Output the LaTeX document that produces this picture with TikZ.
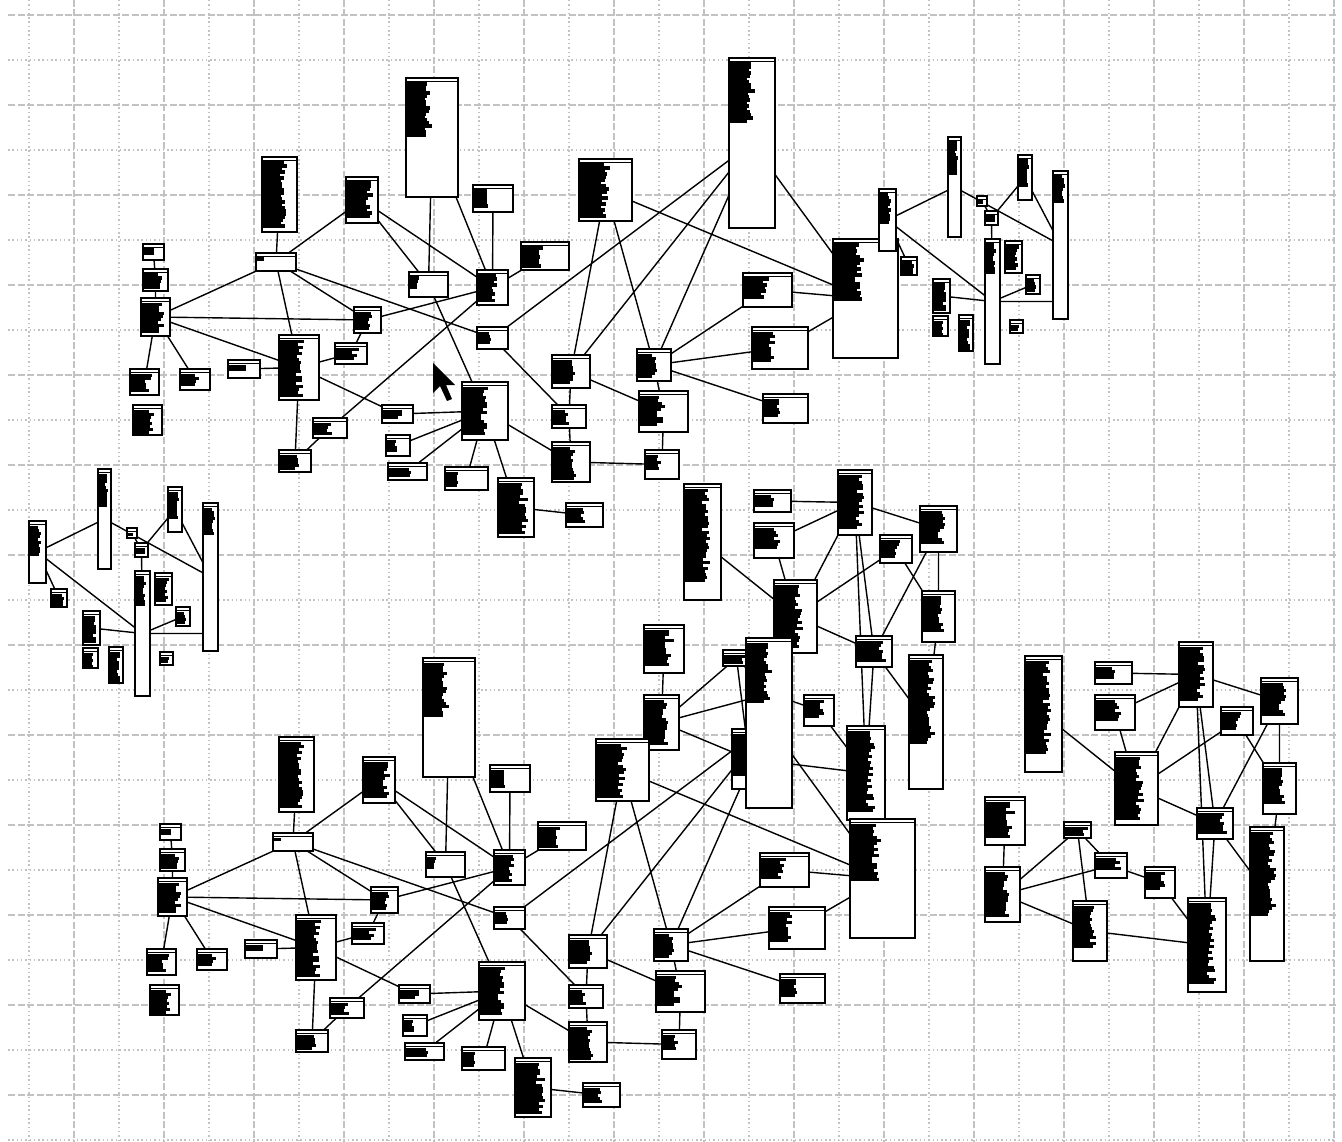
\documentclass[tikz,border=0pt]{standalone}
\usepackage{tikz}

\pgfdeclarelayer{grid}
\pgfdeclarelayer{edges}
\pgfsetlayers{grid,edges,main}

\tikzset{
  tbl/.style={draw,fill=white,line width=1.6pt,inner sep=0pt,outer sep=0pt},
  link/.style={line width=1.4pt},
  gridmajor/.style={draw=black!24,line width=1.5pt,dash pattern=on 7pt off 2.5pt},
  gridminor/.style={draw=black!24,line width=1.5pt,dash pattern=on 1.5pt off 2.8pt}
}

% table box: name, x1, y1, x2, y2, text width, text height (pixels)
\newcommand\tbl[7]{%
  \node[tbl,minimum width={(#4-#2)*1pt},minimum height={(#5-#3)*1pt}] (#1) at ({(#2+#4)/2},{(#3+#5)/2}) {};
  \draw[line width=0.8pt] ([yshift=-3pt]#1.north west) -- ([yshift=-3pt]#1.north east);
  \pgfmathtruncatemacro\nrows{max(1,#7/3)}
  \foreach \r in {1,...,\nrows}{
    \pgfmathsetmacro\rw{#6*(0.68+0.32*rnd)}
    \fill ([xshift=1pt,yshift={-4.5pt-3pt*(\r-1)}]#1.north west) rectangle ++(\rw pt,-3.6pt);
  }
}

% main schema
\newcommand\clusterA{%
  \pgfmathsetseed{11}
  \tbl{a1}{262}{157}{297}{232}{24}{66}
  \tbl{a2}{346}{177}{378}{223}{27}{38}
  \tbl{a3}{406}{78}{458}{197}{26}{55}
  \tbl{a4}{473}{185}{513}{212}{15}{18}
  \tbl{a5}{521}{242}{569}{270}{22}{21}
  \tbl{a6}{143}{244}{164}{260}{13}{8}
  \tbl{a7}{143}{269}{168}{291}{19}{15}
  \tbl{a8}{141}{298}{170}{336}{23}{30}
  \tbl{a9}{256}{253}{296}{271}{10}{3}
  \tbl{a10}{409}{272}{448}{297}{10}{14}
  \tbl{a11}{477}{270}{508}{305}{20}{27}
  \tbl{a12}{354}{307}{381}{333}{18}{18}
  \tbl{a13}{477}{327}{508}{349}{15}{14}
  \tbl{a14}{279}{335}{319}{400}{24}{57}
  \tbl{a15}{335}{343}{367}{364}{23}{14}
  \tbl{a16}{228}{360}{260}{378}{17}{8}
  \tbl{a17}{130}{369}{159}{395}{21}{18}
  \tbl{a18}{180}{369}{210}{390}{19}{14}
  \tbl{a19}{133}{405}{162}{435}{21}{24}
  \tbl{a20}{462}{382}{508}{440}{26}{50}
  \tbl{a21}{382}{405}{413}{423}{21}{10}
  \tbl{a22}{313}{418}{347}{438}{19}{12}
  \tbl{a23}{386}{435}{410}{456}{11}{14}
  \tbl{a24}{279}{450}{311}{472}{19}{15}
  \tbl{a25}{388}{463}{427}{480}{23}{10}
  \tbl{a26}{445}{467}{488}{490}{15}{16}
  \tbl{a27}{498}{478}{534}{537}{29}{51}
  \tbl{a28}{566}{503}{603}{527}{19}{16}
  \tbl{a30}{579}{159}{632}{221}{30}{54}
  \tbl{a31}{552}{355}{590}{388}{23}{24}
  \tbl{a32}{552}{405}{586}{428}{17}{15}
  \tbl{a33}{552}{442}{590}{482}{25}{33}
  \tbl{a34}{637}{349}{671}{381}{19}{24}
  \tbl{a35}{639}{391}{688}{432}{25}{30}
  \tbl{a36}{645}{450}{679}{479}{15}{15}
  \tbl{a37}{743}{273}{792}{307}{25}{21}
  \tbl{a38}{752}{327}{808}{369}{23}{30}
  \tbl{a39}{763}{394}{808}{423}{17}{18}
  \tbl{a40}{729}{58}{775}{228}{25}{60}
  \tbl{a41}{833}{239}{898}{358}{30}{57}
  \begin{pgfonlayer}{edges}
    \draw[link] (a1) -- (a9) (a9) -- (a2) (a9) -- (a8) (a9) -- (a14) (a9) -- (a12) (a9) -- (a13);
    \draw[link] (a8) -- (a12) (a8) -- (a14) (a8) -- (a7) (a7) -- (a6) (a8) -- (a17) (a8) -- (a18);
    \draw[link] (a14) -- (a16) (a14) -- (a15) (a12) -- (a15) (a14) -- (a24) (a14) -- (a21)
      (a22) -- (a24) (a22) -- (a11) (a12) -- (a11);
    \draw[link] (a2) -- (a10) (a2) -- (a11) (a3) -- (a10) (a3) -- (a11) (a4) -- (a11) (a5) -- (a11)
      (a10) -- (a20) (a13) -- (a32);
    \draw[link] (a21) -- (a20) (a23) -- (a20) (a25) -- (a20) (a26) -- (a20) (a27) -- (a20)
      (a27) -- (a28) (a20) -- (a33);
    \draw[link] (a31) -- (a32) (a32) -- (a33) (a30) -- (a31) (a30) -- (a34) (a30) -- (a41)
      (a13) -- (a40) (a40) -- (a31) (a40) -- (a34) (a40) -- (a41);
    \draw[link] (a34) -- (a37) (a34) -- (a38) (a34) -- (a39) (a34) -- (a35) (a35) -- (a36)
      (a33) -- (a36) (a31) -- (a35) (a37) -- (a41) (a38) -- (a41);
  \end{pgfonlayer}
}

% narrow schema
\newcommand\clusterB{%
  \pgfmathsetseed{23}
  \tbl{b1}{29}{521}{46}{583}{11}{30}
  \tbl{b2}{98}{469}{111}{569}{9}{33}
  \tbl{b3}{168}{487}{182}{532}{10}{27}
  \tbl{b4}{203}{503}{218}{651}{11}{27}
  \tbl{b5}{135}{571}{150}{696}{10}{30}
  \tbl{b6}{127}{528}{137}{538}{7}{3}
  \tbl{b7}{135}{543}{148}{557}{10}{6}
  \tbl{b8}{155}{573}{172}{605}{13}{24}
  \tbl{b9}{51}{589}{67}{607}{12}{12}
  \tbl{b10}{83}{611}{100}{645}{13}{27}
  \tbl{b11}{83}{648}{98}{668}{11}{15}
  \tbl{b12}{109}{647}{123}{683}{10}{30}
  \tbl{b13}{176}{607}{190}{626}{10}{12}
  \tbl{b14}{160}{652}{173}{665}{8}{6}
  \begin{pgfonlayer}{edges}
    \draw[link] (b1) -- (b2) (b1) -- (b5) (b1) -- (b9) (b2) -- (b4) (b3) -- (b7) (b3) -- (b4);
    \draw[link] (b7) -- (b5) (b6) -- (b7) (b5) -- (b5 -| b4.west) (b5) -- (b13) (b10) -- (b5);
  \end{pgfonlayer}
}

% side schema
\newcommand\clusterC{%
  \pgfmathsetseed{37}
  \tbl{c1}{1025}{656}{1062}{772}{25}{95}
  \tbl{c2}{1095}{662}{1132}{684}{21}{12}
  \tbl{c3}{1095}{695}{1135}{730}{27}{22}
  \tbl{c4}{1179}{642}{1213}{707}{25}{55}
  \tbl{c5}{1261}{678}{1298}{724}{25}{34}
  \tbl{c6}{1221}{707}{1253}{735}{19}{20}
  \tbl{c7}{1115}{752}{1158}{825}{29}{65}
  \tbl{c8}{1197}{808}{1233}{839}{31}{22}
  \tbl{c9}{1263}{763}{1296}{814}{21}{36}
  \tbl{c10}{1250}{827}{1284}{961}{25}{85}
  \tbl{c11}{1145}{867}{1175}{898}{19}{20}
  \tbl{c12}{1188}{898}{1226}{992}{27}{82}
  \tbl{c13}{1073}{901}{1107}{961}{23}{44}
  \tbl{c14}{1064}{822}{1091}{838}{23}{9}
  \tbl{c15}{985}{797}{1025}{845}{29}{36}
  \tbl{c16}{985}{867}{1020}{922}{23}{45}
  \tbl{c17}{1095}{853}{1127}{878}{27}{14}
  \begin{pgfonlayer}{edges}
    \draw[link] (c1) -- (c7) (c2) -- (c4) (c3) -- (c4) (c3) -- (c7) (c4) -- (c7) (c4) -- (c5)
      (c4) -- (c12) (c4) -- (c8);
    \draw[link] (c6) -- (c7) (c6) -- (c9) (c5) -- (c9) (c5) -- (c8) (c7) -- (c8) (c8) -- (c12)
      (c8) -- (c10) (c9) -- (c10);
    \draw[link] (c15) -- (c16) (c14) -- (c16) (c14) -- (c17) (c14) -- (c13) (c16) -- (c17)
      (c16) -- (c13) (c17) -- (c11) (c11) -- (c12) (c13) -- (c12);
  \end{pgfonlayer}
}

\begin{document}
\begin{tikzpicture}[x=1pt,y=-1pt]
  \useasboundingbox (0,0) rectangle (1342,1142);

  % grid paper
  \begin{pgfonlayer}{grid}
    \fill[white] (0,0) rectangle (1342,1142);
    \foreach \k in {0,2,...,28} \draw[gridminor] ({29+45*\k},0) -- ({29+45*\k},1142);
    \foreach \k in {1,3,...,29} \draw[gridmajor] ({29+45*\k},0) -- ({29+45*\k},1142);
    \foreach \k in {0,2,...,24} \draw[gridmajor] (8,{15+45*\k}) -- (1336,{15+45*\k});
    \foreach \k in {1,3,...,25} \draw[gridminor] (8,{15+45*\k}) -- (1336,{15+45*\k});
  \end{pgfonlayer}

  \begin{scope}[name prefix=t-]
    \clusterA
  \end{scope}
  % mouse pointer
  \fill (433,363) -- (433,393) -- (440,386) -- (447,401) -- (452,399) -- (446,385) -- (455,385) -- cycle;

  \begin{scope}[shift={(850,-332)},name prefix=tr-]
    \clusterB
  \end{scope}
  \begin{scope}[shift={(-341,-172)},name prefix=m-]
    \clusterC
  \end{scope}
  \begin{scope}[shift={(17,580)},name prefix=b-]
    \clusterA
  \end{scope}
  \begin{scope}[name prefix=l-]
    \clusterB
  \end{scope}
  \begin{scope}[name prefix=r-]
    \clusterC
  \end{scope}
\end{tikzpicture}
\end{document}
